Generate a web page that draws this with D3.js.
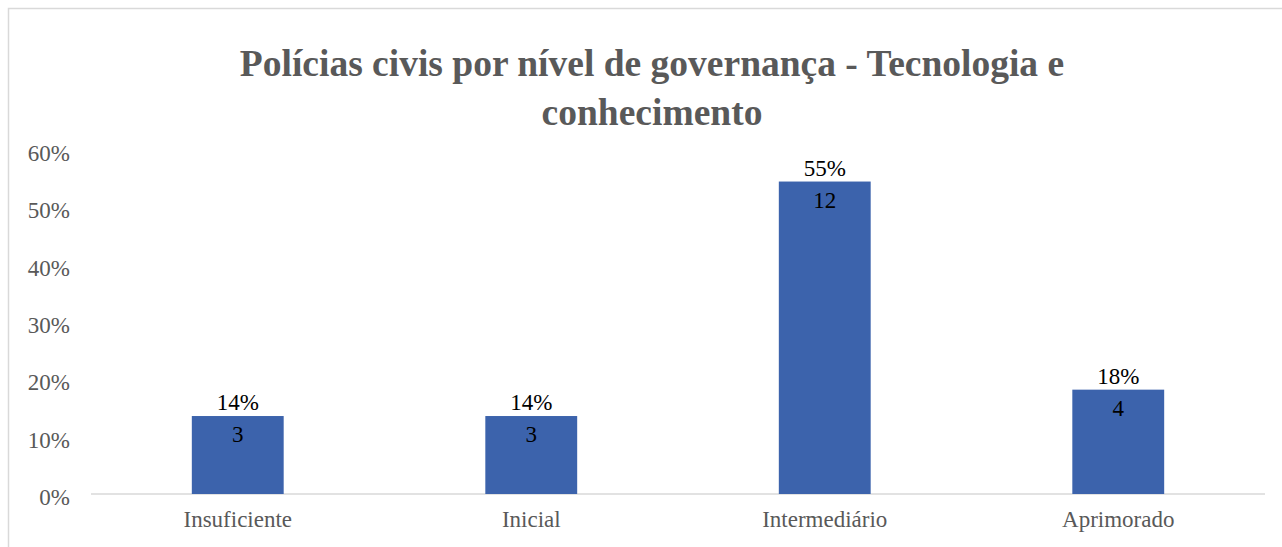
<!DOCTYPE html>
<html>
<head>
<meta charset="utf-8">
<script src="https://cdn.jsdelivr.net/npm/d3@7"></script>
<style>
  body { margin: 0; background: #fff; }
  text { font-family: "Liberation Serif", "Times New Roman", serif; }
</style>
</head>
<body>
<div id="chart"></div>
<script>
var categories = ["Insuficiente", "Inicial", "Intermediário", "Aprimorado"];
var shares = [0.136, 0.136, 0.545, 0.182];
var counts = [3, 3, 12, 4];
var pctLabels = ["14%", "14%", "55%", "18%"];
var yTicks = [0, 0.1, 0.2, 0.3, 0.4, 0.5, 0.6];
var titleLines = ["Polícias civis por nível de governança - Tecnologia e", "conhecimento"];

var width = 1282,
    height = 547;

var svg = d3.select("#chart")
    .append("svg")
    .attr("width", width)
    .attr("height", height);

// chart border
svg.append("rect")
    .attr("x", 8.5)
    .attr("y", 8.5)
    .attr("width", width + 20)
    .attr("height", height + 20)
    .attr("fill", "none")
    .attr("stroke", "#d9d9d9")
    .attr("stroke-width", 1.5);

svg.selectAll(".title")
    .data(titleLines)
    .enter().append("text")
    .attr("class", "title")
    .attr("x", 652)
    .attr("y", function(d, i) { return 76 + i * 49; })
    .attr("text-anchor", "middle")
    .attr("font-size", 37.5)
    .attr("font-weight", "bold")
    .attr("fill", "#595959")
    .text(function(d) { return d; });

var plotLeft = 91, plotRight = 1265, plotTop = 150, plotBottom = 494;

var x = d3.scaleBand()
    .domain(categories)
    .range([plotLeft, plotRight])
    .paddingInner(0.687)
    .paddingOuter(0.3435);

var y = d3.scaleLinear()
    .domain([0, 0.6])
    .range([plotBottom, plotTop]);

// y axis labels
var yAxis = svg.append("g")
    .attr("transform", "translate(" + (plotLeft - 21) + ",3)")
    .call(d3.axisLeft(y).tickValues(yTicks).tickFormat(d3.format(".0%")).tickSize(0).tickPadding(0));
yAxis.select(".domain").remove();
yAxis.selectAll("text")
    .attr("font-size", 23)
    .attr("fill", "#595959")
    .attr("font-family", "Liberation Serif, serif");

// baseline
svg.append("line")
    .attr("x1", plotLeft)
    .attr("x2", plotRight)
    .attr("y1", y(0))
    .attr("y2", y(0))
    .attr("stroke", "#d9d9d9")
    .attr("stroke-width", 1.5);

var xAxis = svg.append("g")
    .attr("transform", "translate(0," + (y(0) + 17) + ")")
    .call(d3.axisBottom(x).tickSize(0).tickPadding(0));
xAxis.select(".domain").remove();
xAxis.selectAll("text")
    .attr("font-size", 23)
    .attr("fill", "#595959")
    .attr("font-family", "Liberation Serif, serif");

svg.selectAll(".bar")
    .data(categories)
    .enter().append("rect")
    .attr("class", "bar")
    .attr("x", function(d) { return x(d); })
    .attr("width", x.bandwidth())
    .attr("y", function(d, i) { return y(shares[i]); })
    .attr("height", function(d, i) { return y(0) - y(shares[i]); })
    .attr("fill", "#3c63ac");

svg.selectAll(".pct")
    .data(categories)
    .enter().append("text")
    .attr("class", "pct")
    .attr("x", function(d) { return x(d) + x.bandwidth() / 2; })
    .attr("y", function(d, i) { return y(shares[i]) - 6; })
    .attr("text-anchor", "middle")
    .attr("font-size", 23)
    .attr("fill", "#000")
    .text(function(d, i) { return pctLabels[i]; });

svg.selectAll(".count")
    .data(categories)
    .enter().append("text")
    .attr("class", "count")
    .attr("x", function(d) { return x(d) + x.bandwidth() / 2; })
    .attr("y", function(d, i) { return y(shares[i]) + 26; })
    .attr("text-anchor", "middle")
    .attr("font-size", 23)
    .attr("fill", "#000")
    .text(function(d, i) { return counts[i]; });
</script>
</body>
</html>
